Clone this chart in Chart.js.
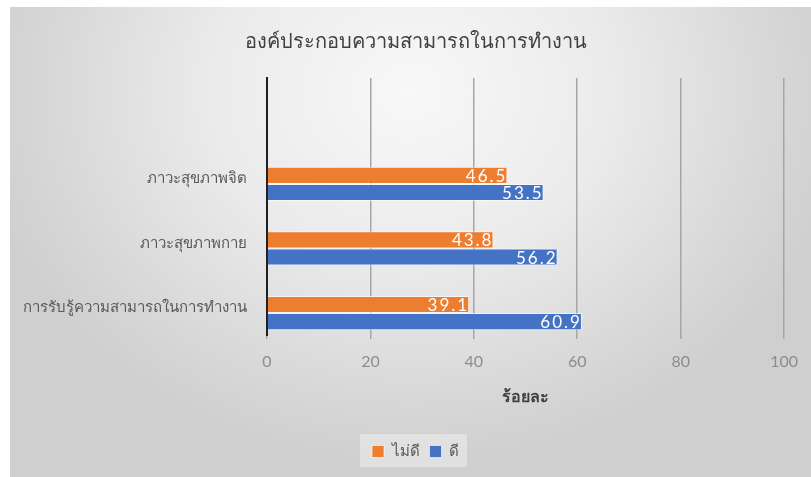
<!DOCTYPE html>
<html lang="th">
<head>
  <meta charset="UTF-8">
  <title>องค์ประกอบความสามารถในการทำงาน</title>
  <script src="https://cdn.jsdelivr.net/npm/chart.js"></script>
  <style>
    html, body { margin: 0; padding: 0; background: #fff; }
    .chart-box {
      position: absolute; left: 10px; top: 7px; width: 801px; height: 470px;
      background: radial-gradient(ellipse 55% 80% at 50% 18%, #f8f8f8 0%, #ebebeb 45%, #d6d6d6 85%, #cfcfcf 100%);
    }
  </style>
</head>
<body>
  <div class="chart-box">
    <canvas id="abilityChart" width="801" height="470"></canvas>
  </div>

  <script>
    // data
    const categories = ['ภาวะสุขภาพจิต', 'ภาวะสุขภาพกาย', 'การรับรู้ความสามารถในการทำงาน'];
    const seriesNames = ['ไม่ดี', 'ดี'];
    const notGood = [46.5, 43.8, 39.1];
    const good = [53.5, 56.2, 60.9];
    const xTicks = [0, 20, 40, 60, 80, 100];

    Chart.defaults.font.family = "'Noto Sans', 'DejaVu Sans', sans-serif";

    // white value labels at the end of each bar
    const barLabels = {
      id: 'barLabels',
      afterDatasetsDraw(chart) {
        const ctx = chart.ctx;
        ctx.save();
        ctx.font = '17px Lato';
        ctx.letterSpacing = '2px';
        ctx.fillStyle = '#ffffff';
        ctx.textAlign = 'right';
        ctx.textBaseline = 'middle';
        chart.data.datasets.forEach((ds, di) => {
          chart.getDatasetMeta(di).data.forEach((bar, i) => {
            ctx.fillText(ds.data[i].x.toFixed(1), bar.x, bar.y + 1);
          });
        });
        ctx.restore();
      }
    };

    // faint box behind the legend
    const legendBack = {
      id: 'legendBack',
      beforeDraw(chart) {
        const boxes = chart.legend && chart.legend.legendHitBoxes;
        if (!boxes || !boxes.length) return;
        const l = Math.min(...boxes.map(b => b.left)) - 12;
        const r = Math.max(...boxes.map(b => b.left + b.width)) + 8;
        const t = Math.min(...boxes.map(b => b.top)) - 10;
        const btm = Math.max(...boxes.map(b => b.top + b.height)) + 8;
        const ctx = chart.ctx;
        ctx.save();
        ctx.fillStyle = 'rgba(255,255,255,0.35)';
        ctx.fillRect(l, t, r - l, btm - t);
        ctx.restore();
      }
    };

    // the left padding only recentres title and legend; let the long
    // category label use that space instead of being clipped
    const widenLabels = {
      id: 'widenLabels',
      afterLayout(chart) { chart.scales.y.left = 0; }
    };

    const ctx = document.getElementById('abilityChart').getContext('2d');
    const abilityChart = new Chart(ctx, {
      type: 'bar',
      data: {
        datasets: [{
          label: seriesNames[0],
          data: categories.map((c, i) => ({ x: notGood[i], y: i })),
          backgroundColor: '#ED7D31',
          borderColor: 'rgba(255,255,255,0.6)',
          borderWidth: 1
        }, {
          label: seriesNames[1],
          data: categories.map((c, i) => ({ x: good[i], y: i })),
          backgroundColor: '#4472C4',
          borderColor: 'rgba(255,255,255,0.6)',
          borderWidth: 1
        }]
      },
      options: {
        indexAxis: 'y',
        responsive: false,
        animation: false,
        categoryPercentage: 0.53,
        barPercentage: 1,
        layout: { padding: { left: 36, right: 26, top: 0, bottom: 8 } },
        scales: {
          x: {
            min: 0,
            max: 100,
            afterBuildTicks: s => { s.ticks = xTicks.map(v => ({ value: v })); },
            afterFit: s => { s.height = 99; },
            ticks: { color: '#8c8c8c', font: { family: 'Lato', size: 16 }, padding: 13 },
            grid: { color: '#a6a6a6', lineWidth: 1.5, tickLength: 4 },
            border: { display: false },
            title: {
              display: true,
              text: 'ร้อยละ',
              color: '#404040',
              font: { size: 16, weight: 'bold' },
              padding: { top: 10, bottom: 27 }
            }
          },
          y: {
            type: 'linear',
            offset: false,
            reverse: true,
            min: -1.64,
            max: 2.34,
            afterBuildTicks: s => { s.ticks = categories.map((c, i) => ({ value: i })); },
            afterFit: s => { s.width = 221; },
            ticks: { callback: v => categories[v], color: '#595959', font: { size: 15 }, padding: 20, labelOffset: -5 },
            grid: { display: false, drawTicks: false, offset: false },
            border: { display: true, color: '#1f1f1f', width: 2 }
          }
        },
        plugins: {
          title: {
            display: true,
            text: 'องค์ประกอบความสามารถในการทำงาน',
            color: '#404040',
            font: { size: 20, weight: 'normal' },
            padding: { top: 23, bottom: 24 }
          },
          legend: {
            position: 'bottom',
            labels: { boxWidth: 12, boxHeight: 12, color: '#595959', font: { size: 15 }, padding: 10 }
          },
          tooltip: { enabled: false }
        }
      },
      plugins: [widenLabels, legendBack, barLabels]
    });
  </script>
</body>
</html>
